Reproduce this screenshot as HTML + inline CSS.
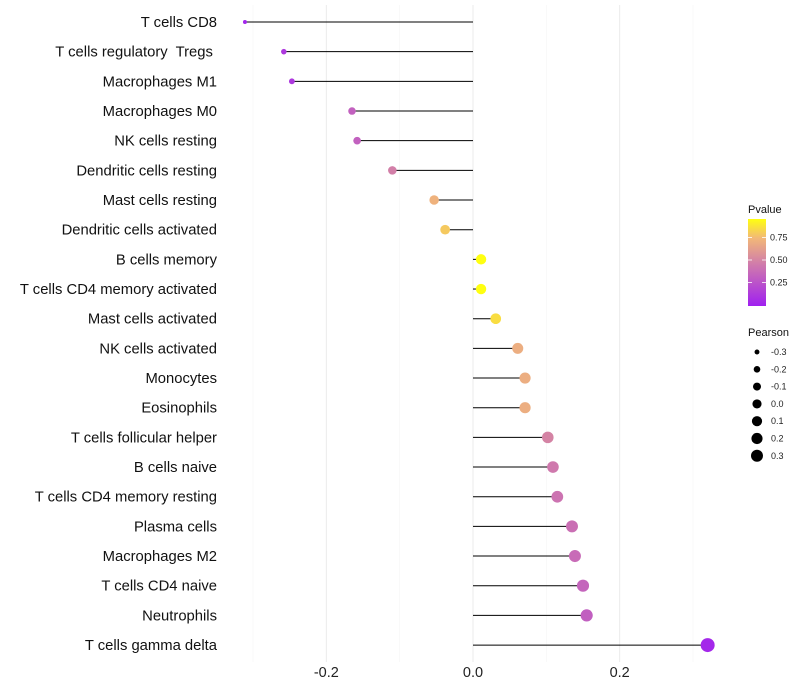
<!DOCTYPE html>
<html><head><meta charset="utf-8"><style>
body{margin:0;background:#fff;font-family:"Liberation Sans",sans-serif}
svg{display:block}
text{white-space:pre}
</style></head><body>
<svg id="c" width="800" height="700" xmlns="http://www.w3.org/2000/svg">
<defs><linearGradient id="pg" x1="0" y1="1" x2="0" y2="0">
<stop offset="0" stop-color="#a020f0"/><stop offset="0.5" stop-color="#d27fa8"/><stop offset="0.78" stop-color="#f2b878"/><stop offset="1" stop-color="#ffff10"/>
</linearGradient></defs>
<g id="grid"></g><g id="marks"></g><g id="labels"></g><g id="legend"></g>
</svg>
<script>
const categories=["T cells CD8","T cells regulatory  Tregs ","Macrophages M1","Macrophages M0","NK cells resting","Dendritic cells resting","Mast cells resting","Dendritic cells activated","B cells memory","T cells CD4 memory activated","Mast cells activated","NK cells activated","Monocytes","Eosinophils","T cells follicular helper","B cells naive","T cells CD4 memory resting","Plasma cells","Macrophages M2","T cells CD4 naive","Neutrophils","T cells gamma delta"];
const pearson=[-0.311,-0.258,-0.247,-0.165,-0.158,-0.110,-0.053,-0.038,0.011,0.011,0.031,0.061,0.071,0.071,0.102,0.109,0.115,0.135,0.139,0.150,0.155,0.320];
const pvalue=[0.03,0.12,0.12,0.33,0.33,0.48,0.72,0.80,0.96,0.96,0.86,0.70,0.70,0.70,0.50,0.45,0.42,0.40,0.38,0.35,0.32,0.04];
const xTicks=[-0.2,0,0.2];
const xTickLabels=["-0.2","0.0","0.2"];
const pTicks=[0.25,0.5,0.75];
const pTickLabels=["0.25","0.50","0.75"];
const sizeVals=[-0.3,-0.2,-0.1,0,0.1,0.2,0.3];
const sizeLabels=["-0.3","-0.2","-0.1","0.0","0.1","0.2","0.3"];

const NS="http://www.w3.org/2000/svg";
const X=v=>473+v*733.3;
const Y=i=>22+i*29.67;
const R=v=>Math.sqrt(Math.max(1,4+45*(v+0.31)/0.63));
const RL=v=>Math.sqrt(Math.max(1,6+30*(v+0.3)/0.6));
const stops=[[0,[160,32,240]],[0.5,[210,127,168]],[0.78,[242,184,120]],[1,[255,255,16]]];
function col(p){let t=Math.max(0,Math.min(1,p/0.96));for(let k=1;k<stops.length;k++){if(t<=stops[k][0]){const a=stops[k-1],b=stops[k];const f=(t-a[0])/(b[0]-a[0]);return "rgb("+a[1].map((c,j)=>Math.round(c+(b[1][j]-c)*f)).join(",")+")";}}return "rgb(255,255,16)";}
function mk(tag,attrs,parent,text){const e=document.createElementNS(NS,tag);for(const k in attrs)e.setAttribute(k,attrs[k]);if(text!==undefined)e.textContent=text;document.getElementById(parent).appendChild(e);return e;}

xTicks.forEach((t,i)=>{
 const g=mk("line",{x1:X(t),x2:X(t),y1:5,y2:662,stroke:"#ebebeb","stroke-width":1},"grid");
 
 
 const tl=mk("text",{x:X(t),y:677,"text-anchor":"middle","font-size":14.5,fill:"#222"},"labels",xTickLabels[i]);
 
 
});
[-0.3,-0.1,0.1,0.3].forEach(t=>{
 const g=mk("line",{x1:X(t),x2:X(t),y1:5,y2:662,stroke:"#f5f5f5","stroke-width":0.6},"grid");
 
 
});
categories.forEach((c,i)=>{
 const l=mk("text",{x:217,y:Y(i)+5,"text-anchor":"end","font-size":14.8,fill:"#111"},"labels",c);
 
 
 const s=mk("line",{x1:X(0),x2:X(pearson[i]),y1:Y(i),y2:Y(i),stroke:"#000","stroke-width":1},"marks");
 
 
 const d=mk("circle",{cx:X(pearson[i]),cy:Y(i),r:R(pearson[i]),fill:col(pvalue[i])},"marks");
 
 
});
const lt=mk("text",{x:748,y:213,"font-size":11,fill:"#111"},"legend","Pvalue");


const bar=mk("rect",{x:748,y:219,width:18,height:87,fill:"url(#pg)"},"legend");


const PY=p=>260-(p-0.5)*90;
pTicks.forEach((p,i)=>{
 mk("line",{x1:748,x2:752,y1:PY(p),y2:PY(p),stroke:"#fff","stroke-width":0.8},"legend");
 mk("line",{x1:762,x2:766,y1:PY(p),y2:PY(p),stroke:"#fff","stroke-width":0.8},"legend");
 const t=mk("text",{x:770,y:PY(p)+3,"font-size":9,fill:"#222"},"legend",pTickLabels[i]);
 
 
});
const st=mk("text",{x:748,y:336,"font-size":11,fill:"#111"},"legend","Pearson");


sizeVals.forEach((v,i)=>{
 const y=352+i*17.3;
 const c=mk("circle",{cx:757,cy:y,r:RL(v),fill:"#000"},"legend");
 
 
 const t=mk("text",{x:771,y:y+3,"font-size":9,fill:"#222"},"legend",sizeLabels[i]);
 
 
});
</script>
</body></html>
